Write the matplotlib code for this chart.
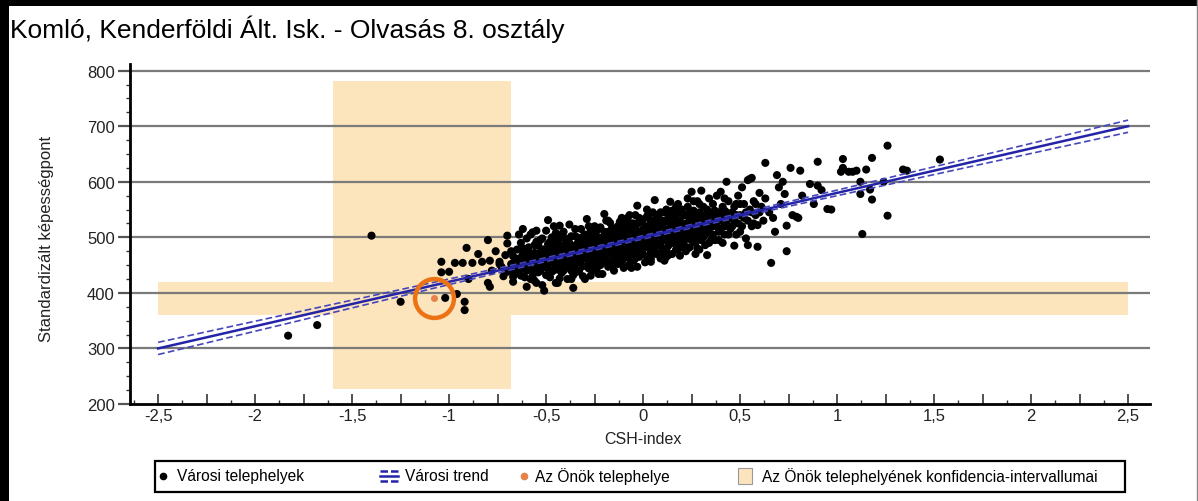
import matplotlib
matplotlib.use("Agg")
import matplotlib.pyplot as plt
from matplotlib.patches import Rectangle
from matplotlib.lines import Line2D
from matplotlib.ticker import FixedLocator, FuncFormatter, MultipleLocator

plt.rcParams['font.family'] = ['Liberation Sans', 'DejaVu Sans']

# ---------------- data ----------------
title = "Komló, Kenderföldi Ált. Isk. - Olvasás 8. osztály"
x_label = "CSH-index"
y_label = "Standardizált képességpont"
x_ticks = [-2.5, -2, -1.5, -1, -0.5, 0, 0.5, 1, 1.5, 2, 2.5]
y_ticks = [200, 300, 400, 500, 600, 700, 800]

legend_labels = ["Városi telephelyek", "Városi trend", "Az Önök telephelye",
                 "Az Önök telephelyének konfidencia-intervallumai"]

# school (own site) and its confidence intervals
school_x = -1.08
school_y = 391
csh_ci = (-1.60, -0.68)        # CSH-index interval
score_ci = (360, 420)          # score interval
csh_ci_span = (227, 782)       # vertical extent of the CSH band
score_ci_span = (-2.5, 2.5)    # horizontal extent of the score band

# city trend and its confidence band
trend_x = [-2.5, -2.0, -1.5, -1.0, -0.5, 0.0, 0.5, 1.0, 1.5, 2.0, 2.5]
trend_y = [300, 340, 380, 420, 460, 500, 540, 580, 620, 660, 700]
trend_band = [11, 9, 7, 5, 3.5, 3, 3.5, 5, 7, 9, 11]

# city sites (CSH-index, score): outer part of the cloud
city_points_outer = [
    (-1.83, 323), (-1.68, 342), (-1.40, 503), (-1.25, 384), (-1.02, 391), (-0.96, 398),
    (-0.92, 384), (-0.92, 369), (-1.04, 456), (-1.00, 438), (-1.04, 437), (-0.97, 454),
    (-0.93, 454), (-0.88, 454), (-0.91, 481), (-0.80, 495), (-0.83, 456), (-0.79, 458),
    (-0.80, 418), (-0.79, 411), (-0.90, 425), (-0.70, 503), (-0.74, 456), (-0.67, 429),
    (-0.70, 438), (-0.85, 470), (-0.78, 440), (-0.76, 475), (-0.62, 515), (-0.55, 512),
    (-0.43, 521),
    (-0.74, 452), (-0.72, 430), (-0.71, 468), (-0.69, 441), (-0.68, 475), (-0.67, 420),
    (-0.66, 458), (-0.73, 447), (-0.70, 489), (-0.66, 436),
    (-0.64, 462), (-0.63, 431), (-0.62, 480), (-0.61, 447), (-0.60, 411), (-0.60, 498),
    (-0.59, 455), (-0.58, 470), (-0.58, 425), (-0.57, 440), (-0.56, 486), (-0.56, 458),
    (-0.55, 418), (-0.64, 505), (-0.62, 445), (-0.59, 466), (-0.57, 509), (-0.61, 428),
    (-0.54, 470), (-0.54, 437), (-0.53, 452), (-0.53, 495), (-0.52, 414), (-0.52, 478),
    (-0.51, 404), (-0.51, 462), (-0.50, 446), (-0.50, 512), (-0.49, 531), (-0.49, 488),
    (-0.48, 428), (-0.48, 468), (-0.47, 455), (-0.47, 500), (-0.46, 441), (-0.46, 479),
    (-0.45, 418), (-0.45, 463), (-0.53, 473), (-0.50, 456), (-0.48, 492), (-0.46, 520),
    (-0.44, 418), (-0.44, 475), (-0.43, 450), (-0.43, 498), (-0.42, 462), (-0.42, 436),
    (-0.41, 485), (-0.41, 510), (-0.40, 447), (-0.40, 470), (-0.39, 425), (-0.39, 492),
    (-0.38, 458), (-0.38, 523), (-0.37, 440), (-0.37, 480), (-0.36, 409), (-0.36, 466),
    (-0.35, 502), (-0.35, 451), (-0.44, 460), (-0.42, 505), (-0.40, 488), (-0.38, 473),
    (-0.36, 432), (-0.39, 455),
    (-0.34, 470), (-0.34, 438), (-0.33, 495), (-0.33, 456), (-0.32, 515), (-0.32, 480),
    (-0.31, 448), (-0.31, 462), (-0.30, 490), (-0.30, 425), (-0.29, 533), (-0.29, 472),
    (-0.28, 455), (-0.28, 505), (-0.27, 431), (-0.27, 485), (-0.26, 468), (-0.26, 497),
    (-0.25, 442), (-0.25, 520), (-0.34, 488), (-0.32, 460), (-0.30, 476), (-0.28, 444),
    (-0.27, 512), (-0.26, 452), (-0.31, 501), (-0.29, 466),
    (-0.24, 478), (-0.24, 455), (-0.23, 500), (-0.23, 434), (-0.22, 488), (-0.22, 518),
    (-0.21, 434), (-0.21, 470), (-0.20, 542), (-0.20, 495), (-0.19, 460), (-0.19, 482),
    (-0.18, 510), (-0.18, 447), (-0.17, 472), (-0.17, 526), (-0.16, 458), (-0.16, 492),
    (-0.15, 440), (-0.15, 505), (-0.24, 512), (-0.22, 465), (-0.20, 476), (-0.19, 530),
    (-0.18, 488), (-0.17, 452), (-0.16, 517), (-0.21, 499), (-0.23, 468), (-0.15, 480),
    (-0.14, 470), (-0.14, 500), (-0.13, 452), (-0.13, 520), (-0.12, 488), (-0.12, 462),
    (-0.11, 535), (-0.11, 478), (-0.10, 445), (-0.10, 505), (-0.09, 493), (-0.09, 468),
    (-0.08, 449), (-0.08, 515), (-0.07, 482), (-0.07, 540), (-0.06, 460), (-0.06, 498),
    (-0.05, 472), (-0.05, 525), (-0.14, 486), (-0.12, 510), (-0.10, 475), (-0.09, 530),
    (-0.08, 490), (-0.07, 462), (-0.06, 512), (-0.11, 458), (-0.13, 495), (-0.05, 488),
    (-0.04, 490), (-0.04, 462), (-0.03, 557), (-0.03, 447), (-0.02, 510), (-0.02, 478),
    (-0.01, 528), (-0.01, 496), (0.00, 470), (0.00, 515), (0.01, 455), (0.01, 502),
    (0.02, 538), (0.02, 485), (0.03, 466), (0.03, 520), (0.04, 456), (0.04, 495),
    (0.05, 545), (0.05, 478), (-0.04, 520), (-0.02, 492), (0.00, 500), (0.01, 482),
    (0.02, 465), (0.03, 505), (0.04, 530), (-0.01, 472), (-0.03, 505), (0.05, 510),
    (0.06, 567), (0.06, 498), (0.07, 470), (0.07, 520), (0.08, 485), (0.08, 540),
    (0.09, 462), (0.09, 508), (0.10, 495), (0.10, 530), (0.11, 458), (0.11, 515),
    (0.12, 478), (0.12, 550), (0.13, 502), (0.13, 468), (0.14, 564), (0.14, 525),
    (0.15, 490), (0.15, 470), (0.06, 530), (0.08, 505), (0.10, 480), (0.11, 545),
    (0.12, 512), (0.13, 535), (0.14, 496), (0.09, 523),
    (0.16, 505), (0.16, 545), (0.17, 478), (0.17, 520), (0.18, 492), (0.18, 560),
    (0.19, 467), (0.19, 530), (0.20, 512), (0.20, 488), (0.21, 540), (0.21, 500),
    (0.22, 475), (0.22, 525), (0.23, 555), (0.23, 498), (0.24, 515), (0.24, 482),
    (0.25, 582), (0.25, 535), (0.16, 525), (0.18, 508), (0.20, 550), (0.22, 505),
    (0.24, 545), (0.19, 490),
    (0.26, 505), (0.26, 548), (0.27, 520), (0.27, 490), (0.28, 565), (0.28, 530),
    (0.29, 478), (0.29, 512), (0.30, 584), (0.30, 540), (0.31, 500), (0.31, 555),
    (0.32, 522), (0.32, 486), (0.33, 468), (0.33, 535), (0.34, 570), (0.34, 510),
    (0.35, 545), (0.35, 495), (0.28, 500), (0.31, 528),
    (0.36, 520), (0.36, 560), (0.37, 495), (0.38, 540), (0.38, 575), (0.39, 510),
    (0.40, 582), (0.40, 530), (0.41, 490), (0.41, 555), (0.42, 520), (0.43, 600),
    (0.43, 545), (0.44, 505), (0.44, 565), (0.45, 535), (0.37, 548), (0.42, 570),
    (0.46, 520), (0.47, 485), (0.47, 555), (0.48, 540), (0.49, 575), (0.50, 510),
    (0.50, 560), (0.51, 590), (0.52, 535), (0.53, 498), (0.54, 486), (0.54, 603),
    (0.55, 605), (0.55, 550),
    (0.56, 607), (0.56, 520), (0.57, 565), (0.58, 540), (0.59, 522), (0.59, 483),
    (0.60, 580), (0.61, 555), (0.62, 530), (0.63, 634), (0.63, 570), (0.65, 545),
    (0.66, 454), (0.67, 535), (0.68, 510), (0.69, 612), (0.70, 590), (0.72, 600),
    (0.74, 521), (0.74, 475), (0.76, 625), (0.77, 540), (0.79, 537), (0.80, 535),
    (0.71, 560), (0.73, 578),
    (0.81, 620), (0.82, 575), (0.86, 596), (0.88, 560), (0.90, 636), (0.90, 593),
    (0.95, 551), (0.97, 550), (0.92, 585),
    (1.02, 618), (1.03, 641), (1.03, 625), (1.06, 618), (1.08, 618), (1.10, 620),
    (1.12, 600), (1.12, 578), (1.13, 506), (1.15, 622), (1.17, 586), (1.18, 568),
    (1.18, 643), (1.24, 600), (1.26, 539), (1.26, 665), (1.34, 622), (1.36, 620),
    (1.53, 640),
]

# city sites (CSH-index, score): dense core around the trend
city_points_core = [
    (-0.68, 452), (-0.67, 466), (-0.66, 445), (-0.65, 478), (-0.64, 440), (-0.63, 458),
    (-0.62, 470), (-0.61, 462), (-0.60, 440), (-0.60, 475), (-0.65, 455), (-0.63, 490),
    (-0.59, 448), (-0.59, 482), (-0.58, 458), (-0.57, 462), (-0.57, 430), (-0.56, 472),
    (-0.55, 445), (-0.55, 492), (-0.54, 458), (-0.54, 485), (-0.53, 440), (-0.52, 465),
    (-0.52, 498), (-0.51, 450), (-0.51, 478), (-0.50, 470), (-0.50, 432), (-0.58, 505),
    (-0.56, 422), (-0.53, 462),
    (-0.49, 462), (-0.49, 445), (-0.48, 480), (-0.48, 455), (-0.47, 470), (-0.47, 438),
    (-0.46, 462), (-0.46, 500), (-0.45, 475), (-0.45, 448), (-0.44, 490), (-0.44, 442),
    (-0.43, 470), (-0.43, 480), (-0.42, 450), (-0.42, 478), (-0.41, 462), (-0.41, 440),
    (-0.40, 498), (-0.40, 458), (-0.47, 485), (-0.45, 508), (-0.43, 426), (-0.41, 472),
    (-0.39, 468), (-0.39, 480), (-0.38, 445), (-0.38, 490), (-0.37, 460), (-0.37, 502),
    (-0.36, 478), (-0.36, 450), (-0.35, 470), (-0.35, 485), (-0.34, 455), (-0.34, 500),
    (-0.33, 475), (-0.33, 440), (-0.32, 470), (-0.32, 492), (-0.31, 478), (-0.31, 430),
    (-0.30, 462), (-0.30, 505), (-0.37, 425), (-0.35, 515), (-0.33, 465), (-0.31, 488),
    (-0.29, 480), (-0.29, 495), (-0.28, 468), (-0.28, 490), (-0.27, 460), (-0.27, 498),
    (-0.26, 478), (-0.26, 440), (-0.25, 485), (-0.25, 465), (-0.24, 495), (-0.24, 470),
    (-0.23, 485), (-0.23, 515), (-0.22, 450), (-0.22, 478), (-0.21, 490), (-0.21, 455),
    (-0.20, 465), (-0.20, 510), (-0.28, 520), (-0.26, 508), (-0.24, 442), (-0.22, 498),
    (-0.19, 495), (-0.19, 470), (-0.18, 500), (-0.18, 475), (-0.17, 488), (-0.17, 505),
    (-0.16, 470), (-0.16, 480), (-0.15, 495), (-0.15, 462), (-0.14, 515), (-0.14, 455),
    (-0.13, 478), (-0.13, 505), (-0.12, 475), (-0.12, 498), (-0.11, 490), (-0.11, 512),
    (-0.10, 462), (-0.10, 520), (-0.18, 530), (-0.16, 448), (-0.14, 492), (-0.12, 528),
    (-0.09, 478), (-0.09, 505), (-0.08, 470), (-0.08, 500), (-0.07, 495), (-0.07, 520),
    (-0.06, 480), (-0.06, 525), (-0.05, 500), (-0.05, 458), (-0.04, 505), (-0.04, 478),
    (-0.03, 490), (-0.03, 525), (-0.02, 465), (-0.02, 535), (-0.01, 485), (-0.01, 510),
    (0.00, 490), (0.00, 532), (-0.08, 535), (-0.06, 445), (-0.04, 540), (-0.02, 500),
    (0.01, 515), (0.01, 492), (0.02, 500), (0.02, 520), (0.03, 490), (0.03, 540),
    (0.04, 510), (0.04, 475), (0.05, 495), (0.05, 525), (0.06, 482), (0.06, 515),
    (0.07, 505), (0.07, 540), (0.08, 470), (0.08, 520), (0.09, 490), (0.09, 545),
    (0.10, 512), (0.10, 468), (0.02, 550), (0.04, 462), (0.07, 488), (0.09, 528),
    (0.11, 500), (0.11, 528), (0.12, 495), (0.12, 530), (0.13, 515), (0.13, 485),
    (0.14, 505), (0.14, 540), (0.15, 515), (0.15, 548), (0.16, 490), (0.16, 510),
    (0.17, 535), (0.17, 500), (0.18, 520), (0.18, 478), (0.19, 545), (0.19, 510),
    (0.20, 525), (0.20, 498), (0.12, 465), (0.15, 530), (0.17, 555), (0.19, 482),
    (0.21, 518), (0.21, 488), (0.22, 540), (0.22, 512), (0.23, 525), (0.23, 480),
    (0.24, 530), (0.24, 500), (0.25, 515), (0.25, 495), (0.26, 525), (0.26, 565),
    (0.27, 505), (0.27, 540), (0.28, 515), (0.28, 480), (0.29, 545), (0.29, 525),
    (0.30, 510), (0.30, 495), (0.23, 570), (0.27, 470), (0.29, 560),
    (0.31, 515), (0.32, 540), (0.32, 505), (0.33, 520), (0.33, 550), (0.34, 490),
    (0.35, 525), (0.36, 540), (0.36, 505), (0.37, 530), (0.38, 520), (0.39, 545),
    (0.39, 495), (0.40, 515), (0.41, 535), (0.42, 505), (0.42, 548), (0.43, 525),
    (0.44, 540), (0.45, 515),
    (0.46, 545), (0.47, 530), (0.48, 505), (0.48, 560), (0.49, 525), (0.50, 540),
    (0.51, 520), (0.52, 560), (0.53, 545), (0.54, 530), (0.56, 545), (0.57, 525),
    (0.58, 560), (0.60, 545),
]

city_x = [p[0] for p in city_points_outer + city_points_core]
city_y = [p[1] for p in city_points_outer + city_points_core]

# ---------------- styling ----------------
W, H = 1198, 502
tan = '#FCE4BC'
navy = '#2424a8'
dash_blue = '#4646bc'
orange = '#EC7214'
dot_orange = '#E8804A'

fig = plt.figure(figsize=(W / 100, H / 100), dpi=100)
fig.patch.set_facecolor('white')

def fx(px):
    return px / W

def fy(py):
    return 1 - py / H

ax = fig.add_axes([fx(130), fy(405), fx(1150) - fx(130), fy(65) - fy(405)])
ax.set_xlim(-2.645, 2.613)
ax.set_ylim(200, 812)

# confidence bands
ax.add_patch(Rectangle((csh_ci[0], csh_ci_span[0]), csh_ci[1] - csh_ci[0],
                       csh_ci_span[1] - csh_ci_span[0], facecolor=tan, edgecolor='none', zorder=0.2))
ax.add_patch(Rectangle((score_ci_span[0], score_ci[0]), score_ci_span[1] - score_ci_span[0],
                       score_ci[1] - score_ci[0], facecolor=tan, edgecolor='none', zorder=0.2))

# grid
for yv in y_ticks[1:]:
    ax.axhline(yv, color='#7a7a7a', lw=1.6, zorder=0.5)

# points
ax.scatter(city_x, city_y, s=34, color='black', edgecolors='none', zorder=2)

# trend
lo = [t - b for t, b in zip(trend_y, trend_band)]
hi = [t + b for t, b in zip(trend_y, trend_band)]
ax.plot(trend_x, lo, color=dash_blue, lw=1.2, dashes=(4, 2), zorder=3)
ax.plot(trend_x, hi, color=dash_blue, lw=1.2, dashes=(4, 2), zorder=3)
ax.plot(trend_x, trend_y, color=navy, lw=1.8, zorder=3.1)

# own school
ax.plot([school_x], [school_y], 'o', ms=5, color=dot_orange, mec='none', zorder=4)
ax.plot([school_x], [school_y], 'o', ms=28, mfc='none', mec=orange, mew=3.2, zorder=4)

# spines / ticks
for s in ['top', 'right']:
    ax.spines[s].set_visible(False)
ax.spines['left'].set_linewidth(2)
ax.spines['bottom'].set_linewidth(2)

ax.yaxis.set_major_locator(FixedLocator(y_ticks))
ax.yaxis.set_minor_locator(MultipleLocator(25))
ax.tick_params(axis='y', which='major', direction='out', length=9, width=1.6,
               color='#555555', labelsize=12, pad=2, labelcolor='#222222')
ax.tick_params(axis='y', which='minor', direction='out', length=3, width=1, color='#333333')

major_x = [v / 4 for v in range(-10, 11)]
ax.xaxis.set_major_locator(FixedLocator(major_x))
ax.xaxis.set_minor_locator(FixedLocator([v / 8 for v in range(-21, 21, 2)]))

def xfmt(v, pos):
    if abs(v * 2 - round(v * 2)) < 1e-6:
        return f"{v:g}".replace('.', ',')
    return ''

ax.xaxis.set_major_formatter(FuncFormatter(xfmt))
ax.tick_params(axis='x', which='major', direction='in', length=7, width=1.2,
               color='#333333', labelsize=12, pad=3, labelcolor='#222222')
ax.tick_params(axis='x', which='minor', direction='in', length=3, width=1, color='#333333')

fig.text(fx(643), fy(440), x_label, ha='center', va='center', fontsize=11.5, color='#222222')
fig.text(fx(47), fy(239), y_label, ha='center', va='center', rotation=90, fontsize=12,
         color='#222222')
fig.text(fx(10), fy(38), title, ha='left', va='baseline', fontsize=19, color='black')

# legend (manual)
fig.add_artist(Rectangle((fx(155), fy(493)), fx(1125) - fx(155), fy(462) - fy(493),
                         transform=fig.transFigure, fill=False, edgecolor='black', lw=1.6))
ly = fy(477)
fs_leg = 11.2
fig.add_artist(Line2D([fx(163)], [ly], marker='o', ms=4.5, color='black', ls='none',
                      transform=fig.transFigure))
fig.text(fx(177), ly, legend_labels[0], ha='left', va='center', fontsize=fs_leg)
for dy, style in [(-5, 'dash'), (0, 'solid'), (5, 'dash')]:
    kw = dict(dashes=(3, 1.2)) if style == 'dash' else {}
    fig.add_artist(Line2D([fx(380), fx(398)], [fy(477 + dy)] * 2, color=navy, lw=1.8,
                          transform=fig.transFigure, **kw))
fig.text(fx(405), ly, legend_labels[1], ha='left', va='center', fontsize=fs_leg)
fig.add_artist(Line2D([fx(524)], [ly], marker='o', ms=4.5, color=dot_orange, ls='none',
                      transform=fig.transFigure))
fig.text(fx(535), ly, legend_labels[2], ha='left', va='center', fontsize=fs_leg)
fig.add_artist(Rectangle((fx(738), fy(485)), fx(752) - fx(738), fy(469) - fy(485),
                         transform=fig.transFigure, facecolor=tan, edgecolor='#999999', lw=0.8))
fig.text(fx(762), ly, legend_labels[3], ha='left', va='center', fontsize=fs_leg)

# outer frame
fig.add_artist(Rectangle((0, 0), fx(9), 1, transform=fig.transFigure, facecolor='black',
                         edgecolor='none'))
fig.add_artist(Rectangle((0, fy(7)), 1, 1 - fy(7), transform=fig.transFigure,
                         facecolor='black', edgecolor='none'))
fig.add_artist(Line2D([fx(1196.5)] * 2, [0, 1], color='#888888', lw=1,
                      transform=fig.transFigure))

fig.savefig('out.png', dpi=100)
